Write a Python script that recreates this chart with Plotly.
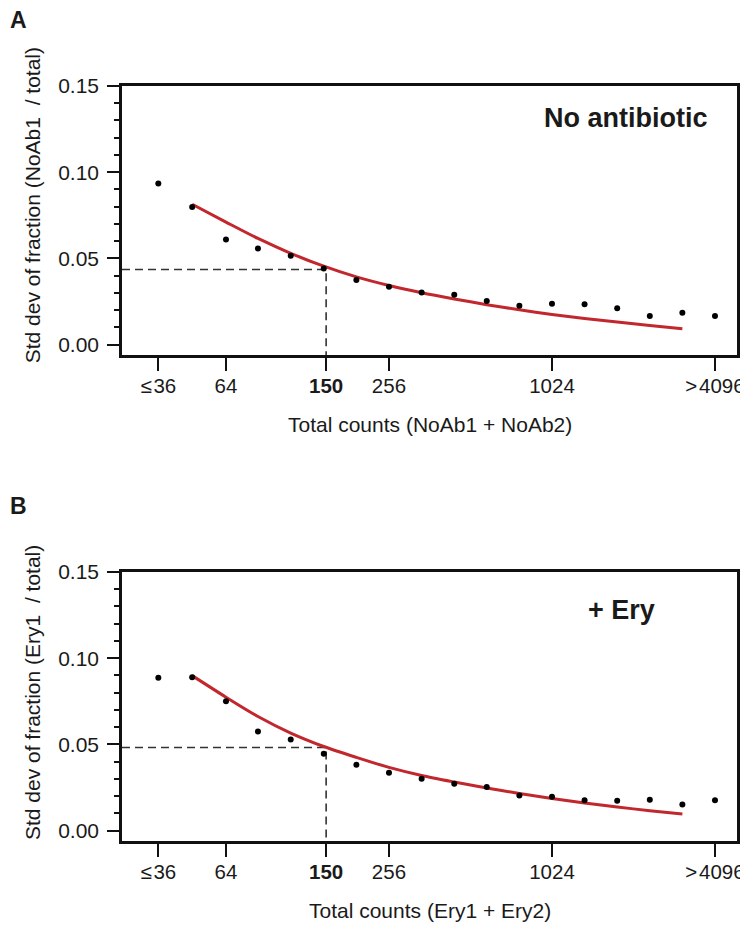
import plotly.graph_objects as go

# ---------------- data ----------------
bin_counts = [36, 48, 64, 84, 111, 147, 194, 256, 338, 446, 588, 776,
              1024, 1351, 1783, 2353, 3104, 4096]

sd_noab = [0.0935, 0.0799, 0.0610, 0.0558, 0.0515, 0.0442, 0.0375, 0.0336,
           0.0303, 0.0290, 0.0253, 0.0226, 0.0237, 0.0234, 0.0211, 0.0166,
           0.0185, 0.0166]
sd_ery = [0.0886, 0.0890, 0.0751, 0.0575, 0.0529, 0.0446, 0.0382, 0.0336,
          0.0301, 0.0272, 0.0253, 0.0204, 0.0197, 0.0176, 0.0174, 0.0179,
          0.0152, 0.0176]

# expected curve (red), read at bins 2..17
curve_counts = bin_counts[1:17]
curve_noab = [0.0814, 0.0711, 0.0616, 0.0530, 0.0455, 0.0393, 0.0343, 0.0301,
              0.0265, 0.0232, 0.0202, 0.0175, 0.0152, 0.0131, 0.0111, 0.0092]
curve_ery = [0.0899, 0.0774, 0.0662, 0.0566, 0.0488, 0.0425, 0.0367, 0.0320,
             0.0282, 0.0247, 0.0216, 0.0187, 0.0160, 0.0137, 0.0116, 0.0097]

threshold_count = 150
threshold_sd_noab = 0.0436
threshold_sd_ery = 0.0482

tick_vals = [36, 64, 150, 256, 1024, 4096]
tick_text = ["\u2264\u200a36", "64", "<b>150</b>", "256", "1024", ">\u200a4096"]
y_tick_vals = [0.0, 0.05, 0.10, 0.15]
y_tick_text = ["0.00", "0.05", "0.10", "0.15"]

# ---------------- style ----------------
FONT = "Liberation Sans, Arial, Helvetica, sans-serif"
RED = "#c1272d"
AX = "#111111"
x_range_log = [1.4221, 3.6937]
y_range = [-0.006, 0.15]
x_left = 10 ** x_range_log[0]

fig = go.Figure()

panels = [
    (sd_noab, curve_noab, threshold_sd_noab, "x", "y"),
    (sd_ery, curve_ery, threshold_sd_ery, "x2", "y2"),
]
for sd, curve, thr, xa, ya in panels:
    fig.add_trace(go.Scatter(
        x=[x_left, threshold_count, threshold_count],
        y=[thr, thr, y_range[0]],
        mode="lines", line=dict(color="#333333", width=1.6, dash="8px,5px"),
        xaxis=xa, yaxis=ya, showlegend=False, hoverinfo="skip"))
    fig.add_trace(go.Scatter(
        x=curve_counts, y=curve, mode="lines",
        line=dict(color=RED, width=3, shape="spline", smoothing=0.8),
        xaxis=xa, yaxis=ya, showlegend=False))
    fig.add_trace(go.Scatter(
        x=bin_counts, y=sd, mode="markers",
        marker=dict(color="black", size=6),
        xaxis=xa, yaxis=ya, showlegend=False))

xaxis_common = dict(
    type="log", range=x_range_log, tickmode="array", tickvals=tick_vals,
    ticktext=tick_text, ticks="outside", ticklen=13, tickwidth=2,
    tickcolor=AX, showline=True, linewidth=2.5, linecolor=AX, mirror=True,
    showgrid=False, zeroline=False, automargin=False,
    tickfont=dict(family=FONT, size=20.5, color="#1a1a1a"),
    ticklabelstandoff=-2)
yaxis_common = dict(
    range=y_range, tickmode="array", tickvals=y_tick_vals, ticktext=y_tick_text,
    ticks="outside", ticklen=12, tickwidth=2, tickcolor=AX,
    minor=dict(tickmode="linear", tick0=0, dtick=0.01, ticks="outside",
               ticklen=5, tickwidth=1.5, tickcolor=AX, showgrid=False),
    showline=True, linewidth=2.5, linecolor=AX, mirror=True, showgrid=False,
    zeroline=False, automargin=False,
    tickfont=dict(family=FONT, size=21, color="#1a1a1a"),
    ticklabelstandoff=4)

# page body has an 8px margin, so the figure is 8px smaller on each axis
fig.update_layout(
    template="none",
    width=740, height=938,
    margin=dict(l=114, r=11, t=78, b=105, autoexpand=False),
    paper_bgcolor="white", plot_bgcolor="white",
    xaxis=dict(**xaxis_common, domain=[0, 1], anchor="y"),
    yaxis=dict(**yaxis_common, domain=[0.6437, 1.0], anchor="x"),
    xaxis2=dict(**xaxis_common, domain=[0, 1], anchor="y2"),
    yaxis2=dict(**yaxis_common, domain=[0.0, 0.3563], anchor="x2"),
    showlegend=False,
)

txt = dict(family=FONT, size=21, color="#1a1a1a")
ann = [
    dict(text="Std dev of fraction (NoAb1  / total)", x=-0.1463, y=0.842,
         textangle=-90, font=txt),
    dict(text="Std dev of fraction (Ery1  / total)", x=-0.1463, y=0.196,
         textangle=-90, font=txt),
    dict(text="Total counts (NoAb1 + NoAb2)", x=0.5, y=0.5523, font=txt),
    dict(text="Total counts (Ery1 + Ery2)", x=0.5, y=-0.0927, font=txt),
    dict(text="<b>No antibiotic</b>", x=0.8195, y=0.9576,
         font=dict(family=FONT, size=27, color="#1a1a1a")),
    dict(text="<b>+ Ery</b>", x=0.813, y=0.306,
         font=dict(family=FONT, size=27, color="#1a1a1a")),
]
for a in ann:
    a.update(xref="paper", yref="paper", showarrow=False,
             xanchor="center", yanchor="middle")
panel_labels = [
    dict(text="<b>A</b>", x=-0.1854, y=1.0874),
    dict(text="<b>B</b>", x=-0.1854, y=0.4437),
]
for a in panel_labels:
    a.update(xref="paper", yref="paper", showarrow=False, xanchor="left",
             yanchor="middle", font=dict(family=FONT, size=23, color="#1a1a1a"))
fig.update_layout(annotations=ann + panel_labels)

fig.write_html("out.html")
